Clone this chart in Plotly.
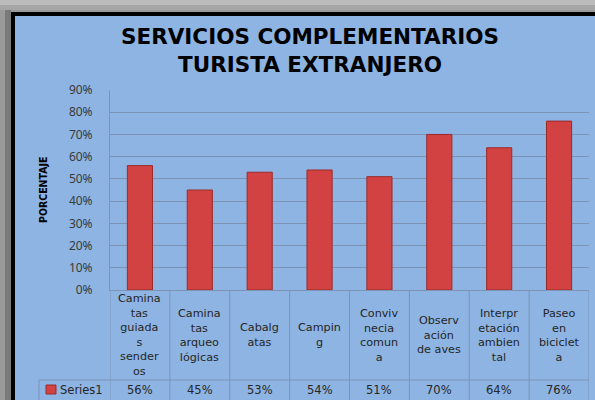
import plotly.graph_objects as go

# ---- data ----
categories = ["Caminatas guiadas senderos", "Caminatas arqueológicas", "Cabalgatas",
              "Camping", "Convivencia comuna", "Observación de aves",
              "Interpretación ambiental", "Paseo en bicicleta"]
tick_labels = ["Camina\ntas\nguiada\ns\nsender\nos", "Camina\ntas\narqueo\nlógicas",
               "Cabalg\natas", "Campin\ng", "Conviv\nnecia\ncomun\na",
               "Observ\nación\nde aves", "Interpr\netación\nambien\ntal",
               "Paseo\nen\nbiciclet\na"]
values = [56, 45, 53, 54, 51, 70, 64, 76]
series_name = "Series1"
title_lines = ["SERVICIOS COMPLEMENTARIOS", "TURISTA EXTRANJERO"]
y_title = "PORCENTAJE"

# ---- geometry helpers (pixel -> paper) ----
W, H = 595, 400
L, R, T, B = 110, 589, 90, 290
def px(p):
    return (p - L) / (R - L)
def py(q):
    return (B - q) / (B - T)

GRID = "#7c93b4"
BLUE = "#8db4e2"
TXT = "#262626"
FONT = "DejaVu Sans"

fig = go.Figure()
fig.add_trace(go.Bar(
    x=categories, y=[v / 100 for v in values], width=0.42,
    marker=dict(color="#d24242", line=dict(color="#9b2a2a", width=1)),
    name=series_name, showlegend=False, hoverinfo="skip"))

shapes = []
# outer grey background bands
shapes.append(dict(type="rect", xref="paper", yref="paper", x0=px(-5), x1=px(700), y0=py(-5), y1=py(5),
                   fillcolor="#bcbcbc", line=dict(width=0), layer="below"))
shapes.append(dict(type="rect", xref="paper", yref="paper", x0=px(-5), x1=px(700), y0=py(5), y1=py(10),
                   fillcolor="#a6a6a6", line=dict(width=0), layer="below"))
shapes.append(dict(type="rect", xref="paper", yref="paper", x0=px(5), x1=px(11), y0=py(10), y1=py(420),
                   fillcolor="#7a7a7a", line=dict(width=0), layer="below"))
# chart frame
shapes.append(dict(type="rect", xref="paper", yref="paper", x0=px(13), x1=px(640), y0=py(14), y1=py(440),
                   fillcolor=BLUE, line=dict(color="black", width=4), layer="below"))
# data table lines
n = len(categories)
for i in range(n + 1):
    shapes.append(dict(type="line", xref="x", yref="paper", x0=i - 0.5, x1=i - 0.5,
                       y0=py(B), y1=py(402), line=dict(color=GRID, width=1)))
shapes.append(dict(type="line", xref="paper", yref="paper", x0=px(39), x1=px(R),
                   y0=py(380), y1=py(380), line=dict(color=GRID, width=1)))
shapes.append(dict(type="line", xref="paper", yref="paper", x0=px(39), x1=px(39),
                   y0=py(380), y1=py(402), line=dict(color=GRID, width=1)))
# legend key
shapes.append(dict(type="rect", xref="paper", yref="paper", x0=px(46), x1=px(56),
                   y0=py(385), y1=py(394), fillcolor="#d24242",
                   line=dict(color="#9b2a2a", width=1)))

ann = []
ann.append(dict(xref="paper", yref="paper", x=px(310), y=py(50), xanchor="center", yanchor="middle",
                text="<br>".join(title_lines), showarrow=False,
                font=dict(family="DejaVu Sans", size=21.5, color="black", weight="bold")))
ann.append(dict(xref="paper", yref="paper", x=px(43), y=py(190), xanchor="center", yanchor="middle",
                text=y_title, textangle=-90, showarrow=False,
                font=dict(family="Liberation Sans Narrow, DejaVu Sans Condensed, sans-serif",
                          size=10.5, color="black", weight="bold")))
for cat, lab in zip(categories, tick_labels):
    ann.append(dict(xref="x", yref="paper", x=cat, y=py(335), xanchor="center", yanchor="middle",
                    text="<br>".join(lab.split("\n")), showarrow=False,
                    font=dict(family=FONT, size=11.2, color=TXT)))
for cat, v in zip(categories, values):
    ann.append(dict(xref="x", yref="paper", x=cat, y=py(390), xanchor="center", yanchor="middle",
                    text=f"{v}%", showarrow=False, font=dict(family=FONT, size=11.5, color=TXT)))
ann.append(dict(xref="paper", yref="paper", x=px(58), y=py(390), xanchor="left", yanchor="middle",
                text=series_name, showarrow=False, font=dict(family=FONT, size=11.5, color=TXT)))

fig.update_layout(
    width=W, height=H,
    margin=dict(l=L, r=W - R, t=T, b=H - B),
    paper_bgcolor="#9a9a9a", plot_bgcolor="rgba(0,0,0,0)",
    shapes=shapes, annotations=ann, showlegend=False,
    xaxis=dict(type="category", range=[-0.5, n - 0.5], showticklabels=False, showgrid=False,
               showline=True, linecolor=GRID, linewidth=1, zeroline=False, fixedrange=True),
    yaxis=dict(range=[0, 0.9], dtick=0.1, tickformat=".0%", showgrid=True, gridcolor=GRID,
               gridwidth=1, showline=True, linecolor=GRID, linewidth=1, zeroline=False,
               ticks="", ticklabelstandoff=14,
               tickfont=dict(family="Noto Sans", size=12, color="#3a3a3a"), fixedrange=True),
    bargap=0.58,
)
fig.write_html("out.html", config={"displayModeBar": False},
               post_script="document.body.style.margin='0';document.body.style.overflow='hidden';")
